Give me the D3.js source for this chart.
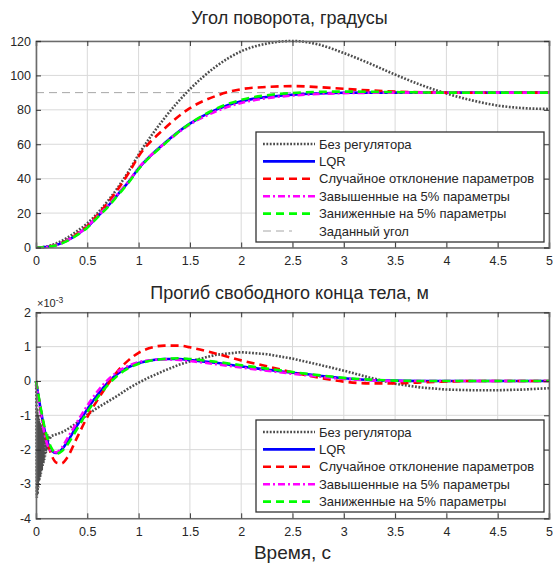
<!DOCTYPE html>
<html>
<head>
<meta charset="utf-8">
<script src="https://cdn.jsdelivr.net/npm/d3@7"></script>
<style>
  body { margin: 0; background: #fff; }
  text { font-family: "Liberation Sans", Arial, sans-serif; fill: #262626; }
</style>
</head>
<body>
<div class="chart"></div>
<script>
// ---- data: angle plot (degrees) ----
const angleTime = [0, 0.1, 0.2, 0.3, 0.4, 0.5, 0.6, 0.7, 0.8, 0.9, 1.0, 1.25, 1.5, 1.75, 2.0, 2.25, 2.5, 2.75, 3.0, 3.25, 3.5, 3.75, 4.0, 4.25, 4.5, 4.75, 5.0];
const angleFree  = [0, 0.5, 2.5, 5.5, 9.5, 14, 20, 27, 35, 44, 54, 75, 92, 105, 114, 118.5, 120, 118, 113, 107, 100.5, 94.5, 89.5, 85.5, 82.5, 81, 80.5];
const angleLQR   = [0, 0.3, 1.5, 4, 7.5, 12, 18, 24, 31, 38, 46, 60.5, 72, 80, 85, 87.5, 88.8, 89.5, 89.9, 90, 90, 90, 90, 90, 90, 90, 90];
const angleRand  = [0, 0.3, 1.6, 4.2, 8, 12.5, 19, 26, 34, 43, 53, 69, 81, 88, 92, 93.3, 93.8, 93.2, 92.2, 91.3, 90.6, 90.2, 90, 89.9, 89.9, 90, 90];
const angleHigh  = [0, 0.3, 1.5, 4, 7.6, 12.2, 18.2, 24.3, 31.3, 38.3, 46.2, 60.3, 71.5, 79, 84, 86.8, 88.3, 89.2, 89.7, 89.9, 90, 90, 90, 90, 90, 90, 90];
const angleLow   = [0, 0.25, 1.3, 3.7, 7.2, 11.5, 17.5, 23.5, 30.5, 37.5, 45.5, 60, 72, 80.5, 85.8, 88.5, 89.8, 90.4, 90.6, 90.5, 90.3, 90.1, 90, 90, 90, 90, 90];
const angleTarget = 90;
const angleTicks = [0, 20, 40, 60, 80, 100, 120];

// ---- data: deflection plot (x 1e-3 m) ----
const deflTime = [0, 0.05, 0.1, 0.15, 0.2, 0.25, 0.3, 0.4, 0.5, 0.6, 0.7, 0.8, 0.9, 1.0, 1.1, 1.25, 1.4, 1.5, 1.75, 2.0, 2.25, 2.5, 2.75, 3.0, 3.25, 3.5, 3.75, 4.0, 4.25, 4.5, 4.75, 5.0];
const deflLQR  = [0, -0.9, -1.65, -2.02, -2.1, -2.0, -1.8, -1.3, -0.82, -0.4, -0.05, 0.22, 0.4, 0.52, 0.59, 0.64, 0.64, 0.61, 0.53, 0.42, 0.33, 0.24, 0.16, 0.08, 0.03, 0.01, 0, 0, 0, 0, 0, 0];
const deflRand = [0, -0.9, -1.65, -2.15, -2.38, -2.4, -2.25, -1.65, -1.05, -0.55, -0.1, 0.3, 0.6, 0.82, 0.95, 1.03, 1.03, 0.98, 0.8, 0.6, 0.43, 0.25, 0.1, -0.02, -0.07, -0.07, -0.04, -0.02, 0, 0, 0, 0];
const deflHigh = [0, -1.0, -1.75, -2.05, -2.08, -1.95, -1.7, -1.2, -0.72, -0.3, 0.03, 0.28, 0.44, 0.55, 0.6, 0.63, 0.61, 0.58, 0.49, 0.39, 0.3, 0.21, 0.13, 0.06, 0.02, 0, 0, 0, 0, 0, 0, 0];
const deflLow  = [0, -0.85, -1.55, -1.95, -2.12, -2.05, -1.88, -1.4, -0.9, -0.48, -0.12, 0.17, 0.37, 0.5, 0.58, 0.64, 0.66, 0.64, 0.56, 0.46, 0.36, 0.26, 0.17, 0.09, 0.04, 0.01, 0, 0, 0, 0, 0, 0];
// free (no regulator) case has its own time base because of the fast ringing at the start
const deflFreeTime = [0, 0.004, 0.008, 0.012, 0.016, 0.02, 0.024, 0.028, 0.032, 0.036, 0.04, 0.044, 0.048, 0.052, 0.056, 0.06, 0.064, 0.068, 0.072, 0.076, 0.08, 0.084, 0.088, 0.092, 0.096, 0.1, 0.105, 0.11, 0.115, 0.12, 0.13, 0.15, 0.2, 0.25, 0.3, 0.4, 0.5, 0.6, 0.7, 0.8, 0.9, 1.0, 1.1, 1.25, 1.4, 1.5, 1.75, 2.0, 2.25, 2.5, 2.75, 3.0, 3.25, 3.5, 3.75, 4.0, 4.25, 4.5, 4.75, 5.0];
const deflFree = [0, -0.4, -3.4, -0.8, -3.3, -1.0, -3.1, -1.1, -2.9, -1.2, -2.8, -1.25, -2.7, -1.3, -2.6, -1.35, -2.5, -1.4, -2.4, -1.45, -2.3, -1.5, -2.2, -1.5, -2.1, -1.55, -2.0, -1.55, -1.9, -1.6, -1.7, -1.6, -1.55, -1.5, -1.42, -1.22, -0.98, -0.78, -0.6, -0.42, -0.22, -0.05, 0.1, 0.3, 0.48, 0.57, 0.76, 0.84, 0.78, 0.65, 0.48, 0.3, 0.1, -0.08, -0.19, -0.25, -0.27, -0.27, -0.25, -0.21];
const deflTicks = [-4, -3, -2, -1, 0, 1, 2];

const timeTicks = [0, 0.5, 1, 1.5, 2, 2.5, 3, 3.5, 4, 4.5, 5];

const legendNames = ['Без регулятора', 'LQR', 'Случайное отклонение параметров', 'Завышенные на 5% параметры', 'Заниженные на 5% параметры', 'Заданный угол'];

// line styles
const styles = {
  free:   { color: '#4d4d4d', width: 2.6, dash: '1.8,1.6' },
  lqr:    { color: '#0000ff', width: 2.6, dash: null },
  rand:   { color: '#ff0000', width: 2.6, dash: '8,5' },
  high:   { color: '#ff00ff', width: 2.6, dash: '7,3,2,3' },
  low:    { color: '#00ff00', width: 2.6, dash: '8,5' },
  target: { color: '#a6a6a6', width: 1, dash: '8,5' }
};

const svg = d3.select('.chart')
              .append('svg')
              .attr('width', 553)
              .attr('height', 564);

const left = 36, right = 549;

function drawPanel(top, bottom, yDomain, yTicks, series, title, titleY, legend) {
  const x = d3.scaleLinear().domain([0, 5]).range([left, right]);
  const y = d3.scaleLinear().domain(yDomain).range([bottom, top]);
  const g = svg.append('g');

  // grid
  g.selectAll('.vgrid').data(timeTicks).enter().append('line')
    .attr('x1', d => x(d)).attr('x2', d => x(d))
    .attr('y1', top).attr('y2', bottom)
    .attr('stroke', '#d9d9d9').attr('stroke-width', 1);
  g.selectAll('.hgrid').data(yTicks).enter().append('line')
    .attr('x1', left).attr('x2', right)
    .attr('y1', d => y(d)).attr('y2', d => y(d))
    .attr('stroke', '#d9d9d9').attr('stroke-width', 1);

  // curves
  series.forEach(s => {
    const st = styles[s.style];
    const pts = s.values.map((v, i) => [s.time[i], v]);
    const line = d3.line()
                   .x(d => x(d[0]))
                   .y(d => y(d[1]))
                   .curve(s.rough ? d3.curveLinear : d3.curveMonotoneX);
    g.append('path')
      .attr('d', line(pts))
      .attr('fill', 'none')
      .attr('stroke', st.color)
      .attr('stroke-width', st.width)
      .attr('stroke-dasharray', st.dash);
  });

  // axes box with inward ticks on all four sides
  const axisColor = '#6b6b6b';
  g.append('g').attr('transform', `translate(0,${bottom})`)
    .call(d3.axisBottom(x).tickValues(timeTicks).tickSize(-5).tickPadding(9).tickFormat(d3.format('')));
  g.append('g').attr('transform', `translate(0,${top})`)
    .call(d3.axisTop(x).tickValues(timeTicks).tickSize(-5).tickFormat(''));
  g.append('g').attr('transform', `translate(${left},0)`)
    .call(d3.axisLeft(y).tickValues(yTicks).tickSize(-5).tickPadding(5).tickFormat(d => String(d).replace('−', '-')));
  g.append('g').attr('transform', `translate(${right},0)`)
    .call(d3.axisRight(y).tickValues(yTicks).tickSize(-5).tickFormat(''));
  g.selectAll('.domain').attr('stroke', axisColor).attr('stroke-width', 1.6);
  g.selectAll('.tick line').attr('stroke', '#333').attr('stroke-width', 1);
  g.selectAll('.tick text').style('font-size', '12.5px').attr('fill', '#262626')
    .style('font-family', '"Liberation Sans", Arial, sans-serif');

  // title
  svg.append('text')
     .attr('x', (left + right) / 2 - 3)
     .attr('y', titleY)
     .attr('text-anchor', 'middle')
     .style('font-size', '18px')
     .text(title);

  // legend
  const lg = svg.append('g');
  lg.append('rect')
    .attr('x', legend.x).attr('y', legend.y)
    .attr('width', legend.w).attr('height', legend.h)
    .attr('fill', '#fff').attr('stroke', '#333').attr('stroke-width', 1.3);
  legend.items.forEach((it, i) => {
    const st = styles[it];
    const cy = legend.y + 12 + i * legend.step;
    lg.append('line')
      .attr('x1', legend.x + 7)
      .attr('x2', it === 'target' ? legend.x + 36 : legend.x + 59)
      .attr('y1', cy).attr('y2', cy)
      .attr('stroke', st.color)
      .attr('stroke-width', st.width)
      .attr('stroke-dasharray', st.dash);
    lg.append('text')
      .attr('x', legend.x + 63)
      .attr('y', cy + 4.5)
      .style('font-size', '13px')
      .text(legendNames[i]);
  });

  return { x, y };
}

// top panel: rotation angle
const angleSeries = [
  { time: [0, 5], values: [angleTarget, angleTarget], style: 'target' },
  { time: angleTime, values: angleFree, style: 'free' },
  { time: angleTime, values: angleLQR, style: 'lqr' },
  { time: angleTime, values: angleRand, style: 'rand' },
  { time: angleTime, values: angleHigh, style: 'high' },
  { time: angleTime, values: angleLow, style: 'low' }
];
drawPanel(41, 247.5, [0, 120], angleTicks, angleSeries, 'Угол поворота, градусы', 24,
  { x: 256, y: 132, w: 288, h: 110, step: 17.4, items: ['free', 'lqr', 'rand', 'high', 'low', 'target'] });

// bottom panel: tip deflection
const deflSeries = [
  { time: deflFreeTime, values: deflFree, style: 'free', rough: true },
  { time: deflTime, values: deflLQR, style: 'lqr' },
  { time: deflTime, values: deflRand, style: 'rand' },
  { time: deflTime, values: deflHigh, style: 'high' },
  { time: deflTime, values: deflLow, style: 'low' }
];
drawPanel(312.3, 518.3, [-4, 2], deflTicks, deflSeries, 'Прогиб свободного конца тела, м', 299,
  { x: 256, y: 420, w: 288, h: 92, step: 17.4, items: ['free', 'lqr', 'rand', 'high', 'low'] });

// exponent label
const expo = svg.append('text').attr('x', 37).attr('y', 307).style('font-size', '11px');
expo.append('tspan').text('×10');
expo.append('tspan').attr('dy', -4).style('font-size', '8.5px').text('-3');

// x label
svg.append('text')
   .attr('x', (left + right) / 2)
   .attr('y', 559)
   .attr('text-anchor', 'middle')
   .style('font-size', '19px')
   .text('Время, с');
</script>
</body>
</html>
